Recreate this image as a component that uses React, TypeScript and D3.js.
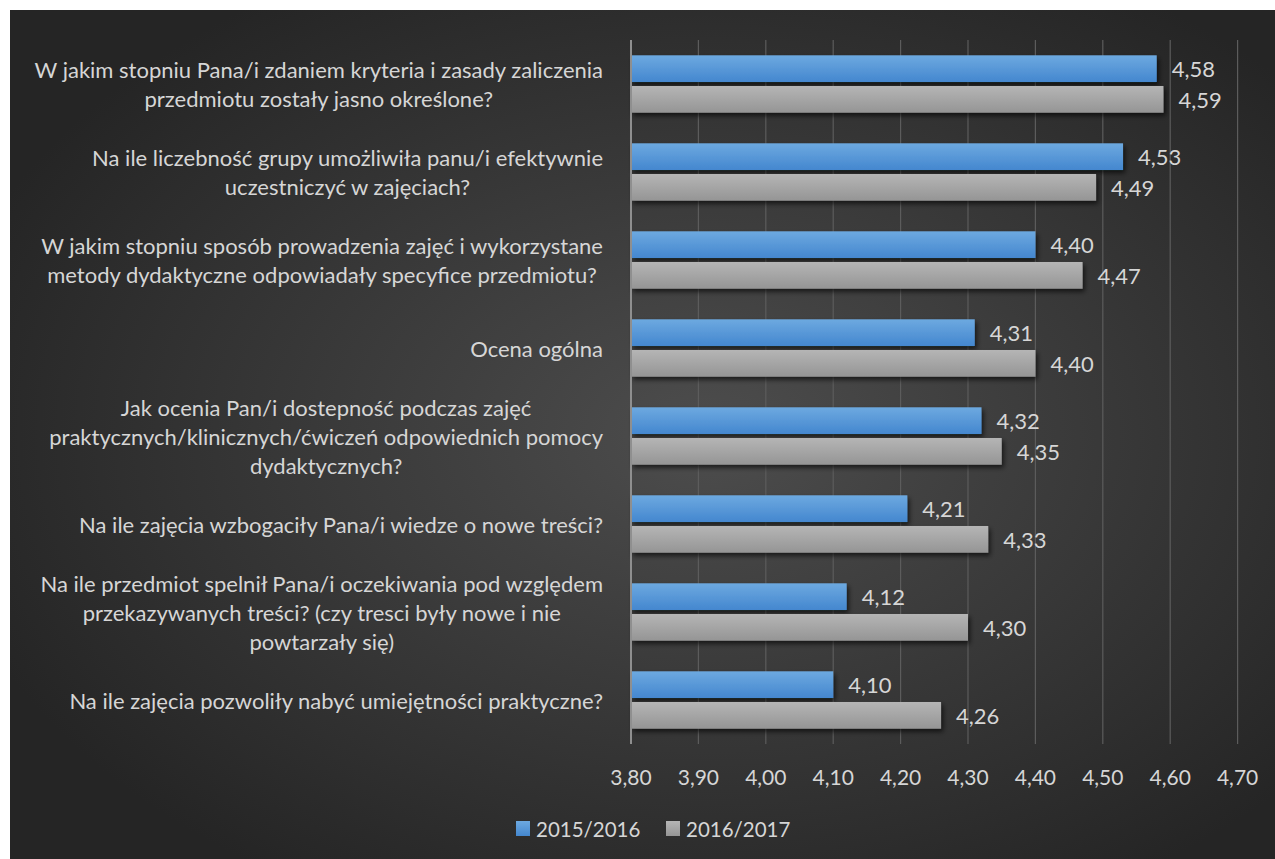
import React, { useEffect, useRef } from "react";
import * as d3 from "d3";

const categories: string[] = [
  "W jakim stopniu Pana/i zdaniem kryteria i zasady zaliczenia\nprzedmiotu zostały jasno określone?",
  "Na ile liczebność grupy umożliwiła panu/i efektywnie\nuczestniczyć w zajęciach?",
  "W jakim stopniu sposób prowadzenia zajęć i wykorzystane\nmetody dydaktyczne odpowiadały specyfice przedmiotu?",
  "Ocena ogólna",
  "Jak ocenia Pan/i dostepność podczas zajęć\npraktycznych/klinicznych/ćwiczeń odpowiednich pomocy\ndydaktycznych?",
  "Na ile zajęcia wzbogaciły Pana/i wiedze o nowe treści?",
  "Na ile przedmiot spelnił Pana/i oczekiwania pod względem\nprzekazywanych treści? (czy tresci były nowe i nie\npowtarzały się)",
  "Na ile zajęcia pozwoliły nabyć umiejętności praktyczne?",
];
const seriesNames: string[] = ["2015/2016", "2016/2017"];
const values2015: number[] = [4.58, 4.53, 4.4, 4.31, 4.32, 4.21, 4.12, 4.1];
const values2016: number[] = [4.59, 4.49, 4.47, 4.4, 4.35, 4.33, 4.3, 4.26];
const xTicks: number[] = [3.8, 3.9, 4.0, 4.1, 4.2, 4.3, 4.4, 4.5, 4.6, 4.7];

const W = 1275;
const H = 859;
const FONT = "Lato, 'Open Sans', sans-serif";
const TEXT = "#d6d6d6";

export default function App() {
  const ref = useRef<SVGSVGElement | null>(null);

  useEffect(() => {
    const svg = d3.select(ref.current);
    svg.selectAll("*").remove();

    const defs = svg.append("defs");
    const bg = defs.append("radialGradient").attr("id", "bg").attr("cx", "55%").attr("cy", "50%").attr("r", "62%");
    bg.append("stop").attr("offset", "0%").attr("stop-color", "#4d4d4d");
    bg.append("stop").attr("offset", "100%").attr("stop-color", "#252525");

    const gBlue = defs.append("linearGradient").attr("id", "gBlue").attr("x1", 0).attr("y1", 0).attr("x2", 0).attr("y2", 1);
    gBlue.append("stop").attr("offset", "0%").attr("stop-color", "#6da9e0");
    gBlue.append("stop").attr("offset", "100%").attr("stop-color", "#4487cf");
    const gGray = defs.append("linearGradient").attr("id", "gGray").attr("x1", 0).attr("y1", 0).attr("x2", 0).attr("y2", 1);
    gGray.append("stop").attr("offset", "0%").attr("stop-color", "#b5b5b5");
    gGray.append("stop").attr("offset", "100%").attr("stop-color", "#959595");

    const sh = defs.append("filter").attr("id", "sh").attr("x", "-10%").attr("y", "-30%").attr("width", "130%").attr("height", "180%");
    sh.append("feDropShadow").attr("dx", 2).attr("dy", 3).attr("stdDeviation", 2.5)
      .attr("flood-color", "#000").attr("flood-opacity", 0.65);

    svg.append("rect").attr("x", 10).attr("y", 10).attr("width", W - 10).attr("height", H - 10).attr("fill", "url(#bg)");

    const x = d3.scaleLinear().domain([3.8, 4.7]).range([631, 1237.6]);
    const y = d3.scaleBand<number>().domain(d3.range(categories.length))
      .range([40, 744]).paddingInner(0.348).paddingOuter(0.174);
    const ys = d3.scaleBand<number>().domain([0, 1]).range([0, y.bandwidth()]).paddingInner(0.13);

    // gridlines
    svg.append("g").selectAll("line").data(xTicks.slice(1)).join("line")
      .attr("x1", (d) => x(d)).attr("x2", (d) => x(d))
      .attr("y1", 40).attr("y2", 744)
      .attr("stroke", "#5c5c5c").attr("stroke-width", 1.2);

    // tick labels
    svg.append("g").selectAll("text").data(xTicks).join("text")
      .attr("x", (d) => x(d)).attr("y", 776)
      .attr("text-anchor", "middle").attr("dominant-baseline", "central")
      .attr("fill", TEXT).attr("font-family", FONT).attr("font-size", 21)
      .text((d) => d3.format(".2f")(d).replace(".", ","));

    const series = [values2015, values2016];
    const fills = ["url(#gBlue)", "url(#gGray)"];

    series.forEach((vals, si) => {
      const g = svg.append("g");
      g.selectAll("rect").data(vals).join("rect")
        .attr("x", x(3.8))
        .attr("y", (_, i) => (y(i) as number) + (ys(si) as number))
        .attr("width", (d) => x(d) - x(3.8))
        .attr("height", ys.bandwidth())
        .attr("fill", fills[si])
        .attr("filter", "url(#sh)");
      g.selectAll("text").data(vals).join("text")
        .attr("x", (d) => x(d) + 15)
        .attr("y", (_, i) => (y(i) as number) + (ys(si) as number) + ys.bandwidth() / 2)
        .attr("dominant-baseline", "central")
        .attr("fill", TEXT).attr("font-family", FONT).attr("font-size", 22)
        .text((d) => d3.format(".2f")(d).replace(".", ","));
    });

    // axis line
    svg.append("line").attr("x1", x(3.8)).attr("x2", x(3.8)).attr("y1", 40).attr("y2", 744)
      .attr("stroke", "#8f8f8f").attr("stroke-width", 2);

    // category labels
    const lineH = 29;
    const rightEdge = 603;
    categories.forEach((c, i) => {
      const lines = c.split("\n");
      const cy = (y(i) as number) + y.bandwidth() / 2;
      const g = svg.append("g");
      const texts = lines.map((ln, k) =>
        g.append("text")
          .attr("y", cy + (k - (lines.length - 1) / 2) * lineH)
          .attr("dominant-baseline", "central")
          .attr("text-anchor", "middle")
          .attr("fill", TEXT).attr("font-family", FONT).attr("font-size", 22)
          .text(ln)
      );
      const maxW = d3.max(texts, (t) => (t.node() as SVGTextElement).getComputedTextLength()) || 0;
      texts.forEach((t) => t.attr("x", rightEdge - maxW / 2));
    });

    // legend
    const legend = svg.append("g");
    const lx = [516, 666];
    seriesNames.forEach((n, i) => {
      legend.append("rect").attr("x", lx[i]).attr("y", 821).attr("width", 14).attr("height", 15).attr("fill", fills[i]);
      legend.append("text").attr("x", lx[i] + 20).attr("y", 828.5)
        .attr("dominant-baseline", "central")
        .attr("fill", TEXT).attr("font-family", FONT).attr("font-size", 20.5).text(n);
    });
  }, []);

  return (
    <svg ref={ref} width={W} height={H}
      style={{ position: "absolute", left: 0, top: 0, display: "block" }} />
  );
}
